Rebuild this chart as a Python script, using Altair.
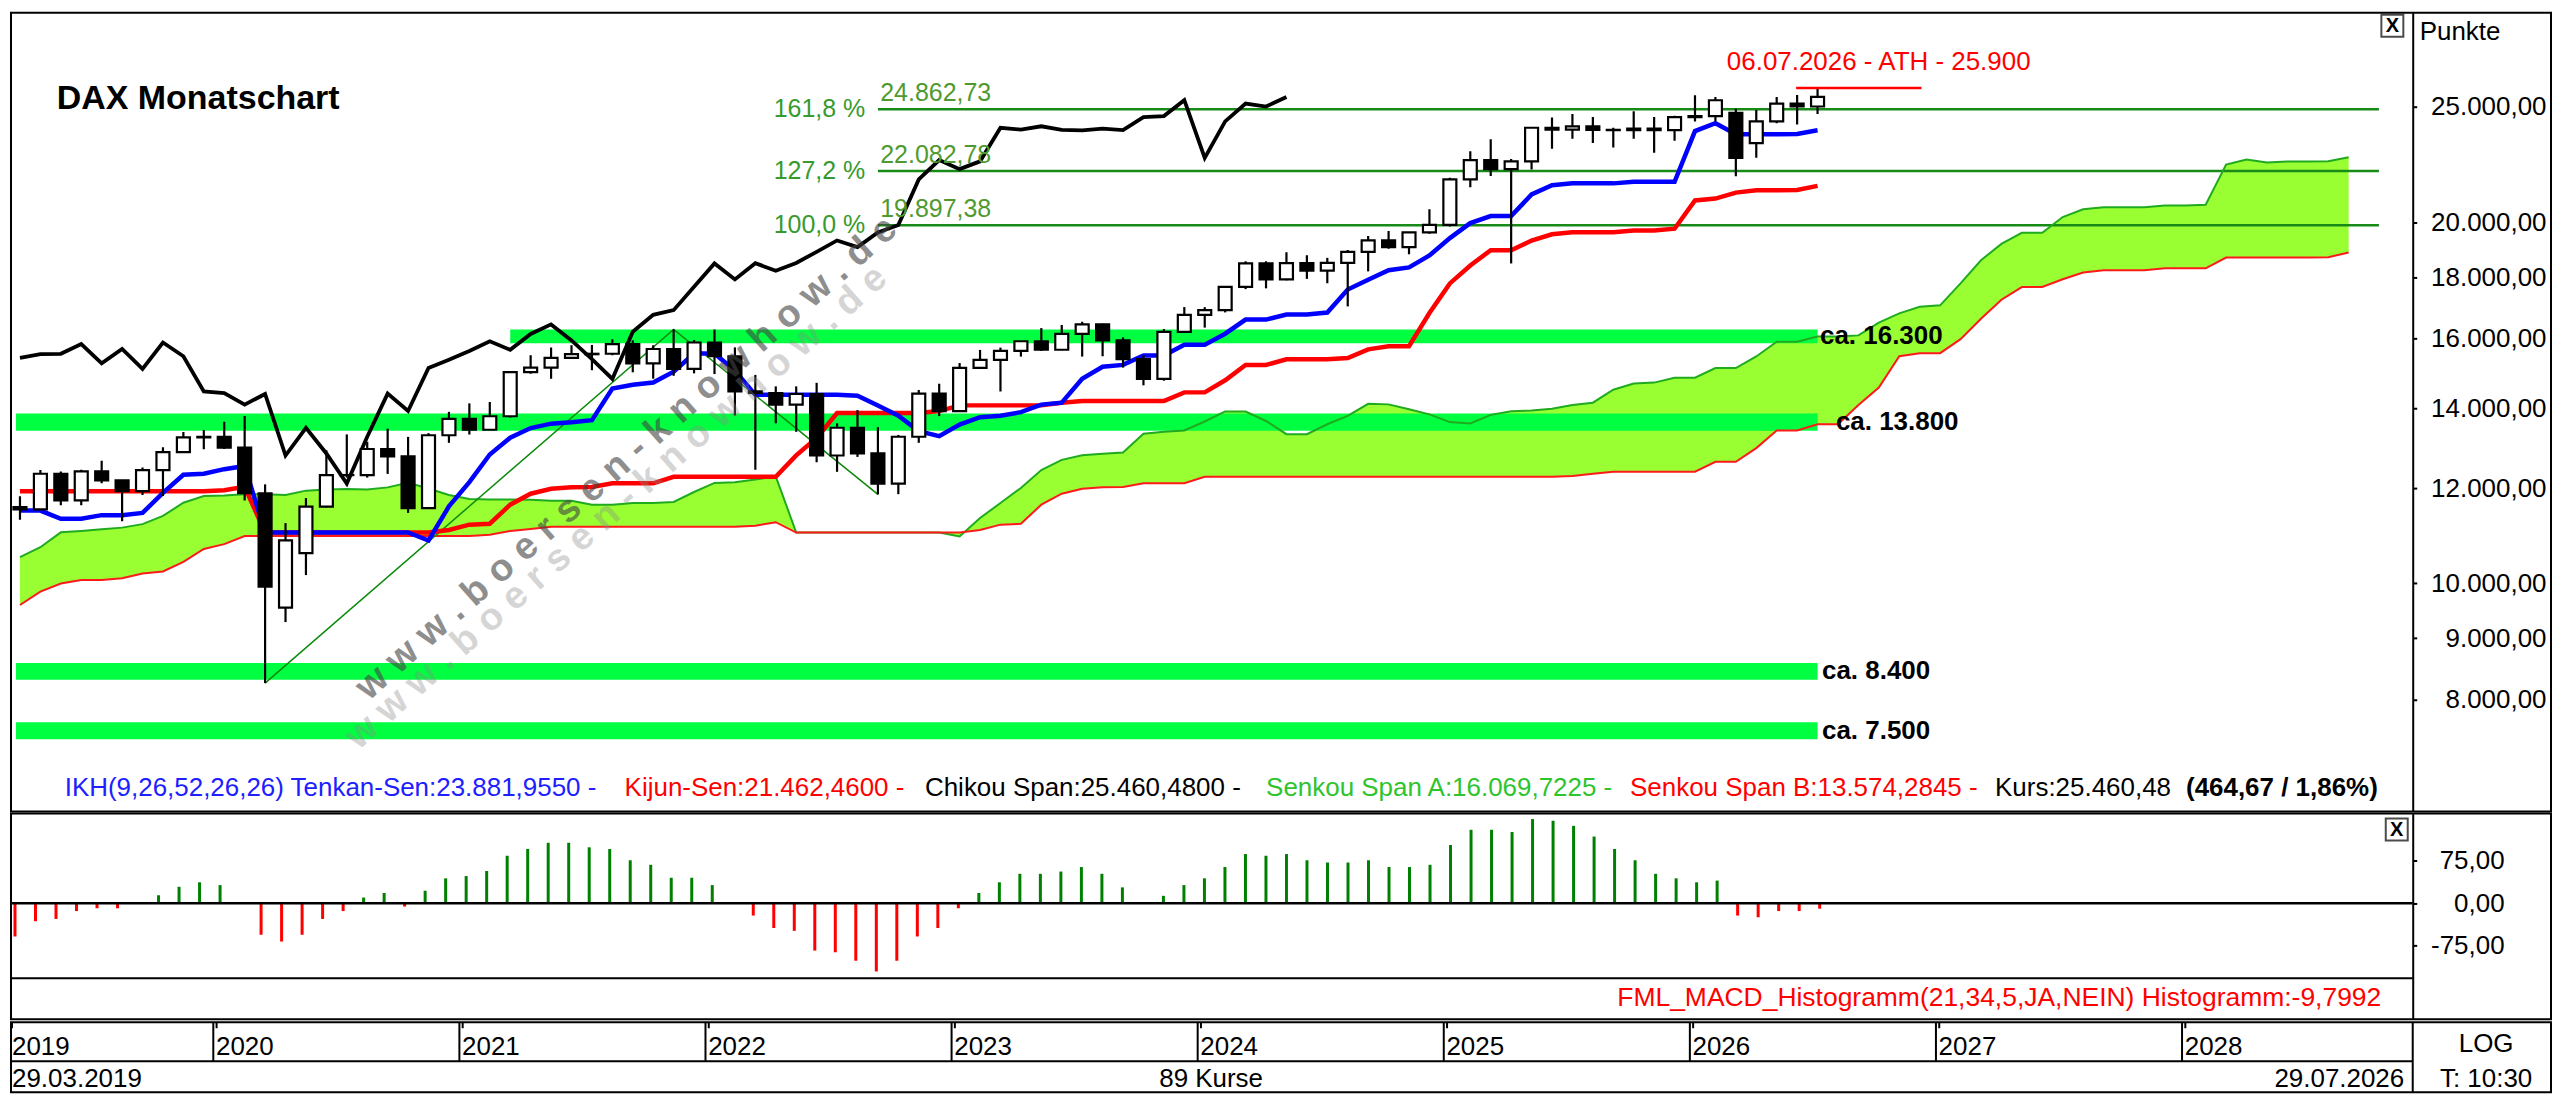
import altair as alt
import pandas as pd

# ---------------- data ----------------
OPEN = [11580, 11526, 12344, 11727, 12399, 12189, 11939, 12428, 12867, 13236,
        13249, 12981, 11890, 9544, 10600, 11587, 12311, 12313, 12945, 12761,
        11556, 13291, 13719, 13433, 13786, 15008, 15136, 15421, 15531, 15544,
        15835, 15260, 15688, 15100, 15885, 15471, 14461, 14415, 14098, 14388,
        12784, 13484, 12835, 12114, 13253, 14397, 13924, 15128, 15365, 15629,
        15922, 15664, 16148, 16447, 15947, 15387, 14810, 16215, 16752, 16903,
        17678, 18492, 17932, 18498, 18235, 18509, 18907, 19325, 19078, 19626,
        19909, 21732, 22551, 22163, 22497, 23997, 23909, 24065, 23902, 23881,
        23958, 23890, 24490, 24540, 24700, 23300, 24290, 25140, 24996]
HIGH = [11823, 12435, 12397, 12439, 12656, 12190, 12494, 12986, 13374, 13425,
        13640, 13795, 12095, 11227, 11781, 12913, 13313, 13124, 13460, 13250,
        13345, 13903, 14131, 14169, 15008, 15501, 15732, 15803, 15810, 15983,
        15950, 15800, 16290, 15960, 16285, 15736, 14925, 14600, 14600, 14700,
        13600, 13950, 13500, 13300, 14500, 14675, 15270, 15660, 15730, 15925,
        16330, 16430, 16530, 16470, 16040, 15500, 16300, 17003, 17000, 17680,
        18567, 18567, 18893, 18784, 18690, 18970, 19491, 19675, 19630, 20523,
        21800, 22935, 23476, 22600, 24010, 24480, 24640, 24500, 24000, 24771,
        24500, 24560, 25540, 25460, 24890, 24830, 25460, 25560, 25900]
LOW = [11299, 11510, 11621, 11620, 12122, 11266, 11850, 11827, 12850, 12940,
       12948, 11725, 8256, 9283, 10160, 11570, 12253, 12253, 12340, 11450,
       11556, 13100, 13310, 13430, 13750, 14960, 14816, 15400, 15060, 15500,
       15000, 14818, 14900, 14970, 14950, 13807, 12439, 13600, 13380, 12620,
       12390, 12750, 11863, 11869, 13100, 13790, 13900, 15100, 14458, 15460,
       15630, 15650, 15460, 15470, 15137, 14630, 14760, 16200, 16345, 16830,
       17600, 17626, 17900, 17950, 17800, 17025, 18210, 19020, 18820, 19580,
       19850, 21400, 21870, 18490, 22150, 23050, 23500, 23300, 23100, 23500,
       22870, 23400, 24290, 24290, 21864, 22650, 24210, 24150, 24640]
CLOSE = [11526, 12344, 11727, 12399, 12189, 11939, 12428, 12867, 13236, 13249,
         12981, 11890, 9936, 10862, 11587, 12311, 12313, 12945, 12761, 11556,
         13291, 13719, 13433, 13786, 15008, 15136, 15421, 15531, 15544, 15835,
         15260, 15688, 15100, 15885, 15471, 14461, 14415, 14098, 14388, 12784,
         13484, 12835, 12114, 13253, 14397, 13924, 15128, 15365, 15629, 15922,
         15664, 16148, 16447, 15947, 15387, 14810, 16215, 16752, 16903, 17678,
         18492, 17932, 18498, 18235, 18509, 18907, 19325, 19078, 19626, 19909,
         21732, 22551, 22163, 22497, 23997, 23909, 24065, 23902, 23881, 23958,
         23890, 24490, 24540, 25300, 22650, 24290, 25140, 24996, 25460]
TENKAN = [11500, 11500, 11320, 11320, 11400, 11400, 11450, 11900, 12320, 12346,
          12453, 12531, 11026, 11026, 11026, 11026, 11026, 11026, 11026, 11026,
          10858, 11593, 12146, 12810, 13229, 13476, 13591, 13627, 13683, 14542,
          14647, 14707, 15020, 15553, 15553, 15049, 14365, 14365, 14365, 14365,
          14365, 14338, 14074, 13800, 13394, 13269, 13567, 13762, 13797, 13894,
          14097, 14150, 14815, 15160, 15215, 15494, 15494, 15817, 15817, 16155,
          16599, 16599, 16762, 16762, 16827, 17585, 17918, 18253, 18350, 18774,
          19413, 19980, 20251, 20251, 21110, 21485, 21565, 21565, 21565, 21631,
          21631, 21631, 23845, 24205, 23702, 23702, 23702, 23712, 23882]
KIJUN = [11938, 11938, 11938, 11938, 11938, 11938, 11938, 11938, 11938, 11938,
         11960, 12037, 11026, 11026, 11026, 11026, 11026, 11026, 11026, 11026,
         11026, 11080, 11194, 11213, 11632, 11879, 11994, 12030, 12033, 12120,
         12120, 12120, 12273, 12273, 12273, 12273, 12273, 12273, 12787, 13225,
         13870, 13870, 13870, 13870, 13870, 13923, 14077, 14077, 14077, 14077,
         14077, 14147, 14197, 14197, 14197, 14197, 14197, 14433, 14433, 14772,
         15215, 15215, 15378, 15378, 15378, 15417, 15677, 15769, 15772, 16812,
         17795, 18418, 18967, 18967, 19320, 19555, 19635, 19635, 19635, 19700,
         19700, 19766, 20870, 20943, 21185, 21283, 21283, 21293, 21463]
SENKOU_A = [10515, 10718, 11030, 11060, 11098, 11130, 11205, 11383, 11675, 11828,
            11840, 11870, 11870, 11850, 11950, 11977, 11990, 11977, 12025, 12132,
            12000, 11850, 11760, 11750, 11750, 11740,
            11719, 11719, 11629, 11629, 11669, 11669, 11694, 11919, 12129, 12142,
            12207, 12284, 11026, 11026, 11026, 11026, 11026, 11026, 11026, 11026,
            10942, 11337, 11670, 12012, 12431, 12678, 12793, 12829, 12858, 13331,
            13384, 13414, 13647, 13913, 13913, 13661, 13319, 13319, 13576, 13795,
            14118, 14104, 13972, 13835, 13632, 13596, 13822, 13920, 13937, 13986,
            14087, 14149, 14506, 14679, 14706, 14846, 14846, 15125, 15125, 15464,
            15907, 15907, 16070, 16070, 16103, 16501, 16798, 17011, 17061, 17793,
            18604, 19199, 19609, 19609, 20215, 20520, 20600, 20600, 20600, 20666,
            20666, 20699, 22358, 22574, 22444, 22493, 22493, 22503, 22672]
SENKOU_B = [9593, 9843, 9997, 10065, 10065, 10100, 10190, 10230, 10420, 10683,
            10782, 10950, 10950, 10950, 10950, 10950, 10950, 10950, 10950, 10950,
            10950, 10950, 10950, 10980, 11060, 11100,
            11148, 11148, 11148, 11148, 11148, 11148, 11148, 11148, 11148, 11148,
            11170, 11247, 11026, 11026, 11026, 11026, 11026, 11026, 11026, 11026,
            11026, 11080, 11194, 11213, 11632, 11879, 11994, 12030, 12033, 12120,
            12120, 12120, 12273, 12273, 12273, 12273, 12273, 12273, 12273, 12273,
            12273, 12273, 12273, 12273, 12273, 12273, 12273, 12273, 12273, 12273,
            12293, 12343, 12393, 12393, 12393, 12393, 12393, 12630, 12630, 12968,
            13412, 13412, 13575, 13575, 14088, 14565, 15471, 15563, 15563, 15987,
            16625, 17246, 17670, 17670, 17937, 18172, 18252, 18252, 18252, 18317,
            18317, 18317, 18702, 18702, 18702, 18702, 18702, 18712, 18882]
MACD_HIST = [-59, -32, -28, -14, -9, -9, 1, 14, 29, 37,
             32, 0, -56, -68, -56, -28, -14, 10, 18, -6,
             22, 44, 48, 57, 84, 96, 107, 107, 99, 96,
             76, 68, 45, 45, 32, 0, -22, -44, -49, -84,
             -87, -102, -121, -102, -59, -44, -9, 18, 37, 52,
             52, 56, 64, 52, 28, 0, 13, 32, 44, 64,
             87, 84, 87, 76, 72, 72, 76, 64, 64, 68,
             103, 130, 130, 126, 149, 146, 137, 118, 96, 76,
             52, 44, 37, 40, -22, -25, -14, -14, -9.8]
CHIKOU_SHIFT = 26
YEARS = ["2019", "2020", "2021", "2022", "2023", "2024", "2025", "2026", "2027", "2028"]
YEAR_IDX = [0, 10, 22, 34, 46, 58, 70, 82, 94, 106]
SUPPORT_LO = [15860, 13405, 8308, 7412]
SUPPORT_HI = [16290, 13858, 8580, 7657]
SUPPORT_LABEL = ["ca. 16.300", "ca. 13.800", "ca. 8.400", "ca. 7.500"]
FIB_VALUES = [24862.73, 22082.78, 19897.38]
FIB_PCT = ["161,8 %", "127,2 %", "100,0 %"]
FIB_TEXT = ["24.862,73", "22.082,78", "19.897,38"]
FIB_ANCHOR_IDX = [12, 32, 42]
FIB_ANCHOR_VAL = [8256, 16290, 11863]
ATH_VALUE = 25900
ATH_TEXT = "06.07.2026 - ATH - 25.900"
MAIN_TICKS = [8000, 9000, 10000, 12000, 14000, 16000, 18000, 20000, 25000]
MACD_TICKS = [-75, 0, 75]
LEGEND = [("IKH(9,26,52,26,26) Tenkan-Sen:23.881,9550 -", "#2020ff"),
          ("Kijun-Sen:21.462,4600 -", "#ff0000"),
          ("Chikou Span:25.460,4800 -", "#000000"),
          ("Senkou Span A:16.069,7225 -", "#2ec42e"),
          ("Senkou Span B:13.574,2845 -", "#ff0000"),
          ("Kurs:25.460,48", "#000000")]
LEGEND_BOLD = "(464,67 / 1,86%)"
MACD_LABEL = "FML_MACD_Histogramm(21,34,5,JA,NEIN) Histogramm:-9,7992"
WATERMARK = "w w w . b o e r s e n - k n o w h o w . d e"

# ---------------- layout ----------------
FONT = "Liberation Sans, Arial, sans-serif"
PX = 20.54          # pixels per month
X0 = 12.0           # page x of the first candle
LEFT = 8
W = 2544
SEP_PX = 2413.5


def idx_at(px):
    return (px - X0) / PX


XMIN, XMAX, SEP = idx_at(LEFT), idx_at(LEFT + W), idx_at(SEP_PX)
AX_OFF = -(LEFT + W - SEP_PX)
xs = alt.Scale(domain=[XMIN, XMAX], nice=False, zero=False)
DE_FMT = ("replace(replace(replace(replace(format(datum.value, ',.2f'), ',', '#'),"
          " '.', ','), '#', '.'), '\u2212', '-')")

H_MAIN, H_MACD, H_BOT = 800, 206, 70
ys_main = alt.Scale(type="log", domain=[6450, 29925], nice=False)
ys_macd = alt.Scale(domain=[-205.7, 158.7], nice=False, zero=False)
ys_bot = alt.Scale(domain=[0, 70], reverse=True, nice=False, zero=False)


def axis_right(values, pad):
    return alt.Axis(orient="right", offset=AX_OFF, values=values, labelExpr=DE_FMT,
                    labelAlign="right", labelBaseline="middle", labelPadding=pad,
                    labelFontSize=26, labelFont=FONT, labelColor="black",
                    tickSize=4, tickWidth=2, tickColor="black",
                    domainColor="black", domainWidth=2, grid=False, title=None,
                    labelOverlap=False, labelFlush=False)


main_axis = axis_right(MAIN_TICKS, 2547 - SEP_PX - 4)
macd_axis = axis_right(MACD_TICKS, 2505 - SEP_PX - 4)


def X(f="x"):
    return alt.X(f + ":Q", scale=xs, axis=None)


def YM(f):
    return alt.Y(f + ":Q", scale=ys_main, axis=main_axis)


def YD(f):
    return alt.Y(f + ":Q", scale=ys_macd, axis=macd_axis)


def YB(f):
    return alt.Y(f + ":Q", scale=ys_bot, axis=None)


# ---------------- tables ----------------
n = len(CLOSE)
candles = pd.DataFrame({"x": range(n), "o": OPEN, "h": HIGH, "l": LOW, "c": CLOSE})
candles["fill"] = ["white" if c >= o else "black" for o, c in zip(OPEN, CLOSE)]
ichi = pd.DataFrame({"x": range(n), "tenkan": TENKAN, "kijun": KIJUN})
cloud = pd.DataFrame({"x": range(len(SENKOU_A)), "sa": SENKOU_A, "sb": SENKOU_B})
chikou = pd.DataFrame({"x": range(n - CHIKOU_SHIFT), "v": CLOSE[CHIKOU_SHIFT:]})
bands = pd.DataFrame({"x1": [24, XMIN, XMIN, XMIN], "x2": [n - 1] * 4,
                      "lo": SUPPORT_LO, "hi": SUPPORT_HI})
band_lab = pd.DataFrame({"x": [idx_at(1822), idx_at(1838), idx_at(1824), idx_at(1824)],
                         "y": [(lo * hi) ** 0.5 for lo, hi in zip(SUPPORT_LO, SUPPORT_HI)],
                         "t": SUPPORT_LABEL})
fib = pd.DataFrame({"x1": [FIB_ANCHOR_IDX[2]] * 3, "x2": [idx_at(2384)] * 3,
                    "v": FIB_VALUES, "pct": FIB_PCT, "txt": FIB_TEXT,
                    "xp": [idx_at(862)] * 3, "xt": [idx_at(877)] * 3})
fibtool = pd.DataFrame({"x": FIB_ANCHOR_IDX, "v": FIB_ANCHOR_VAL, "o": [0, 1, 2]})
ath = pd.DataFrame({"x1": [idx_at(1798)], "x2": [idx_at(1924)], "v": [ATH_VALUE],
                    "xt": [idx_at(1881)], "yt": [27213], "t": [ATH_TEXT]})
legend_x = [57, 620, 922, 1265, 1631, 1998]
legend = pd.DataFrame({"x": [idx_at(p) for p in legend_x], "y": [6753] * len(LEGEND),
                       "t": [s for s, _ in LEGEND], "col": [c for _, c in LEGEND]})
legend_b = pd.DataFrame({"x": [idx_at(2190)], "y": [6753], "t": [LEGEND_BOLD]})
title = pd.DataFrame({"x": [idx_at(49)], "y": [25374], "t": ["DAX Monatschart"]})
punkte = pd.DataFrame({"x": [idx_at(2425)], "y": [28866], "t": ["Punkte"]})
xbox = pd.DataFrame({"x": [idx_at(2397.5)], "y": [29195], "t": ["X"]})
wm = pd.DataFrame({"x": [29.7, 29.2], "y": [12712, 11566], "t": [WATERMARK, WATERMARK],
                   "col": ["#444444", "#8a8a8a"], "op": [0.6, 0.35]})

# ---------------- main panel ----------------
m_cloud = alt.Chart(cloud).mark_area(color="#99ff33", clip=True).encode(
    x=X(), y=YM("sa"), y2="sb:Q")
m_bands = alt.Chart(bands).mark_rect(color="#00ff40", clip=True).encode(
    x=X("x1"), x2="x2:Q", y=YM("lo"), y2="hi:Q")
m_fib = alt.Chart(fib).mark_rule(color="#178a17", strokeWidth=2.5).encode(
    x=X("x1"), x2="x2:Q", y=YM("v"))
m_sa = alt.Chart(cloud).mark_line(color="#1faa1f", strokeWidth=2, clip=True).encode(
    x=X(), y=YM("sa"))
m_sb = alt.Chart(cloud).mark_line(color="#ff1a1a", strokeWidth=2, clip=True).encode(
    x=X(), y=YM("sb"))
m_tool = alt.Chart(fibtool).mark_line(color="#0c8a0c", strokeWidth=1.5).encode(
    x=X(), y=YM("v"), order="o:Q")
m_kijun = alt.Chart(ichi).mark_line(color="#ff0000", strokeWidth=4.5, clip=True).encode(
    x=X(), y=YM("kijun"))
m_tenkan = alt.Chart(ichi).mark_line(color="#0000ff", strokeWidth=4.5, clip=True).encode(
    x=X(), y=YM("tenkan"))
m_chikou = alt.Chart(chikou).mark_line(color="#000000", strokeWidth=3.8, clip=True).encode(
    x=X(), y=YM("v"))
m_wick = alt.Chart(candles).mark_rule(color="black", strokeWidth=2.2, clip=True).encode(
    x=X(), y=YM("l"), y2="h:Q")
m_body = alt.Chart(candles).mark_bar(size=13, stroke="black", strokeWidth=2.2, clip=True).encode(
    x=X(), y=YM("o"), y2="c:Q", fill=alt.Fill("fill:N", scale=None))
m_ath = alt.Chart(ath).mark_rule(color="#ff0000", strokeWidth=2.5).encode(
    x=X("x1"), x2="x2:Q", y=YM("v"))
m_ath_t = alt.Chart(ath).mark_text(color="#ff0000", fontSize=26, font=FONT,
                                   align="center", baseline="middle").encode(
    x=X("xt"), y=YM("yt"), text="t:N")
m_band_t = alt.Chart(band_lab).mark_text(color="black", fontSize=26, font=FONT,
                                         fontWeight="bold", align="left",
                                         baseline="middle").encode(
    x=X(), y=YM("y"), text="t:N")
m_fib_p = alt.Chart(fib).mark_text(color="#379a2e", fontSize=25, font=FONT,
                                   align="right", baseline="middle").encode(
    x=X("xp"), y=YM("v"), text="pct:N")
m_fib_t = alt.Chart(fib).mark_text(color="#4f9a30", fontSize=25, font=FONT,
                                   align="left", baseline="bottom", dy=-3).encode(
    x=X("xt"), y=YM("v"), text="txt:N")
m_title = alt.Chart(title).mark_text(color="black", fontSize=34, font=FONT,
                                     fontWeight="bold", align="left",
                                     baseline="middle").encode(
    x=X(), y=YM("y"), text="t:N")
m_punkte = alt.Chart(punkte).mark_text(color="black", fontSize=26, font=FONT,
                                       align="left", baseline="middle").encode(
    x=X(), y=YM("y"), text="t:N")
m_xbox = alt.Chart(xbox).mark_square(size=484, filled=False, stroke="black",
                                     strokeWidth=2).encode(x=X(), y=YM("y"))
m_xtxt = alt.Chart(xbox).mark_text(color="black", fontSize=20, font=FONT,
                                   fontWeight="bold", baseline="middle").encode(
    x=X(), y=YM("y"), text="t:N")
m_leg = alt.Chart(legend).mark_text(fontSize=26, font=FONT, align="left",
                                    baseline="middle").encode(
    x=X(), y=YM("y"), text="t:N", color=alt.Color("col:N", scale=None))
m_leg_b = alt.Chart(legend_b).mark_text(fontSize=26, font=FONT, fontWeight="bold",
                                        color="black", align="left",
                                        baseline="middle").encode(
    x=X(), y=YM("y"), text="t:N")
m_wm = alt.Chart(wm).mark_text(fontSize=38, font=FONT, fontWeight="bold",
                               angle=318.5, align="center", baseline="middle").encode(
    x=X(), y=YM("y"), text="t:N", color=alt.Color("col:N", scale=None),
    opacity=alt.Opacity("op:Q", scale=None))

main = alt.layer(m_cloud, m_bands, m_fib, m_sa, m_sb, m_tool, m_kijun, m_tenkan,
                 m_chikou, m_wick, m_body, m_ath, m_ath_t, m_band_t, m_fib_p, m_fib_t,
                 m_title, m_punkte, m_xbox, m_xtxt, m_leg, m_leg_b, m_wm
                 ).properties(width=W, height=H_MAIN)

# ---------------- MACD panel ----------------
macd = pd.DataFrame({"x": range(n), "v": MACD_HIST, "zero": [0] * n})
macd["col"] = ["#008000" if v >= 0 else "#ff0000" for v in MACD_HIST]
d_lines = pd.DataFrame({"x1": [XMIN, XMIN], "x2": [SEP, SEP], "v": [0, -133.2],
                        "w": [2.5, 2]})
d_lab = pd.DataFrame({"x": [idx_at(2382)], "y": [-168.6], "t": [MACD_LABEL]})
d_x = pd.DataFrame({"x": [idx_at(2397.5)], "y": [130.4], "t": ["X"]})

d_rules = alt.Chart(d_lines).mark_rule(color="black").encode(
    x=X("x1"), x2="x2:Q", y=YD("v"), strokeWidth=alt.StrokeWidth("w:Q", scale=None))
d_bars = alt.Chart(macd).mark_rule(strokeWidth=3).encode(
    x=X(), y=YD("v"), y2="zero:Q", color=alt.Color("col:N", scale=None))
d_label = alt.Chart(d_lab).mark_text(color="#ff0000", fontSize=26.5, font=FONT,
                                     align="right", baseline="middle").encode(
    x=X(), y=YD("y"), text="t:N")
d_xbox = alt.Chart(d_x).mark_square(size=484, filled=False, stroke="black",
                                    strokeWidth=2).encode(x=X(), y=YD("y"))
d_xtxt = alt.Chart(d_x).mark_text(color="black", fontSize=20, font=FONT,
                                  fontWeight="bold", baseline="middle").encode(
    x=X(), y=YD("y"), text="t:N")
macd_panel = alt.layer(d_bars, d_rules, d_label, d_xbox, d_xtxt).properties(
    width=W, height=H_MACD)

# ---------------- bottom (time axis + info row) ----------------
yr = pd.DataFrame({"x": YEAR_IDX, "t": YEARS})
yr["xs"] = [i - 0.33 for i in YEAR_IDX]
yr["xt"] = [max(i - 0.17, XMIN + 0.05) for i in YEAR_IDX]
yr["xl"] = [max(i - 0.2, XMIN + 0.05) for i in YEAR_IDX]
yr["y0"], yr["y1"], yr["yt1"], yr["yl"] = 0, 39, 6, 22
b_hline = pd.DataFrame({"x1": [XMIN], "x2": [SEP], "y": [39]})
b_vline = pd.DataFrame({"x": [SEP], "y0": [0], "y1": [70]})
b_txt = pd.DataFrame({"x": [XMIN + 0.05, idx_at(1210), idx_at(2405), idx_at(2487), idx_at(2487)],
                      "y": [57, 57, 57, 22, 57],
                      "t": ["29.03.2019", "89 Kurse", "29.07.2026", "LOG", "T: 10:30"],
                      "a": ["left", "center", "right", "center", "center"]})

b_sep = alt.Chart(yr[yr["x"] > 0]).mark_rule(color="black", strokeWidth=2).encode(
    x=X("xs"), y=YB("y0"), y2="y1:Q")
b_tick = alt.Chart(yr).mark_rule(color="black", strokeWidth=2).encode(
    x=X("xt"), y=YB("y0"), y2="yt1:Q")
b_year = alt.Chart(yr).mark_text(color="black", fontSize=26, font=FONT, align="left",
                                 baseline="middle", dy=3).encode(
    x=X("xl"), y=YB("yl"), text="t:N")
b_h = alt.Chart(b_hline).mark_rule(color="black", strokeWidth=2).encode(
    x=X("x1"), x2="x2:Q", y=YB("y"))
b_v = alt.Chart(b_vline).mark_rule(color="black", strokeWidth=2).encode(
    x=X(), y=YB("y0"), y2="y1:Q")
b_layers = []
for a in ["left", "center", "right"]:
    b_layers.append(alt.Chart(b_txt[b_txt["a"] == a]).mark_text(
        color="black", fontSize=26, font=FONT, align=a, baseline="middle").encode(
        x=X(), y=YB("y"), text="t:N"))
bottom = alt.layer(b_sep, b_tick, b_year, b_h, b_v, *b_layers).properties(
    width=W, height=H_BOT)

chart = alt.vconcat(main, macd_panel, bottom, spacing=0).properties(
    padding=0, background="white").configure_view(stroke="black", strokeWidth=2)

chart.save("out.html", embed_options={"renderer": "svg", "actions": False})
